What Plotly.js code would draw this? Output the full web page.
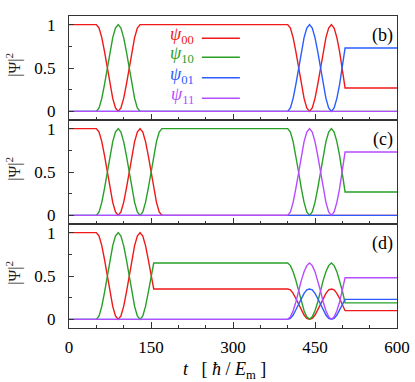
<!DOCTYPE html>
<html lang="en">
<head>
<meta charset="UTF-8">
<title>Populations</title>
<script src="https://cdn.plot.ly/plotly-3.0.1.min.js"></script>
<style>
  body { margin: 0; background: #fff; }
  #plot { width: 415px; height: 382px; }
</style>
</head>
<body>
<div id="plot"></div>
<script>
// time grid (hbar / E_m)
const t = [0, 50,55,60,65,70,75,80,85,90,95,100,105,110,115,120,125,130,135,140,145,150,155,160,165,170,
  400,405,410,415,420,425,430,435,440,445,450,455,460,465,470,475,480,485,490,495,500,505, 600];

// panel (b)
const b00 = [1, 1,.96,.85,.69,.5,.31,.15,.04,0,.04,.15,.31,.5,.69,.85,.96,1, 1,1,1,1,1,1,1,1,
  1,.96,.85,.69,.5,.31,.15,.04,0,.04,.15,.31,.5,.69,.85,.96,1,.96,.85,.69,.5,.27, .27];
const b10 = [0, 0,.04,.15,.31,.5,.69,.85,.96,1,.96,.85,.69,.5,.31,.15,.04,0, 0,0,0,0,0,0,0,0,
  0,0,0,0,0,0,0,0,0,0,0,0,0,0,0,0,0,0,0,0,0,0, 0];
const b01 = [0, 0,0,0,0,0,0,0,0,0,0,0,0,0,0,0,0,0, 0,0,0,0,0,0,0,0,
  0,.04,.15,.31,.5,.69,.85,.96,1,.96,.85,.69,.5,.31,.15,.04,0,.04,.15,.31,.5,.73, .73];
const b11 = [0, 0,0,0,0,0,0,0,0,0,0,0,0,0,0,0,0,0, 0,0,0,0,0,0,0,0,
  0,0,0,0,0,0,0,0,0,0,0,0,0,0,0,0,0,0,0,0,0,0, 0];

// panel (c)
const c00 = [1, 1,.96,.85,.69,.5,.31,.15,.04,0,.04,.15,.31,.5,.69,.85,.96,1, .96,.85,.69,.5,.31,.15,.04,0,
  0,0,0,0,0,0,0,0,0,0,0,0,0,0,0,0,0,0,0,0,0,0, 0];
const c10 = [0, 0,.04,.15,.31,.5,.69,.85,.96,1,.96,.85,.69,.5,.31,.15,.04,0, .04,.15,.31,.5,.69,.85,.96,1,
  1,.96,.85,.69,.5,.31,.15,.04,0,.04,.15,.31,.5,.69,.85,.96,1,.96,.85,.69,.5,.27, .27];
const c01 = [0, 0,0,0,0,0,0,0,0,0,0,0,0,0,0,0,0,0, 0,0,0,0,0,0,0,0,
  0,0,0,0,0,0,0,0,0,0,0,0,0,0,0,0,0,0,0,0,0,0, 0];
const c11 = [0, 0,0,0,0,0,0,0,0,0,0,0,0,0,0,0,0,0, 0,0,0,0,0,0,0,0,
  0,.04,.15,.31,.5,.69,.85,.96,1,.96,.85,.69,.5,.31,.15,.04,0,.04,.15,.31,.5,.73, .73];

// panel (d)
const d00 = [1, 1,.96,.85,.69,.5,.31,.15,.04,0,.04,.15,.31,.5,.69,.85,.96,1, .96,.85,.69,.5,.35,.35,.35,.35,
  .35,.34,.30,.24,.17,.11,.05,.01,0,.01,.05,.11,.17,.24,.30,.34,.35,.34,.30,.24,.17,.10, .10];
const d10 = [0, 0,.04,.15,.31,.5,.69,.85,.96,1,.96,.85,.69,.5,.31,.15,.04,0, .04,.15,.31,.5,.65,.65,.65,.65,
  .65,.62,.55,.45,.33,.20,.10,.03,0,.03,.10,.20,.33,.45,.55,.62,.65,.62,.55,.45,.33,.19, .19];
const d01 = [0, 0,0,0,0,0,0,0,0,0,0,0,0,0,0,0,0,0, 0,0,0,0,0,0,0,0,
  0,.01,.05,.11,.17,.24,.30,.34,.35,.34,.30,.24,.17,.11,.05,.01,0,.01,.05,.11,.17,.23, .23];
const d11 = [0, 0,0,0,0,0,0,0,0,0,0,0,0,0,0,0,0,0, 0,0,0,0,0,0,0,0,
  0,.03,.10,.20,.33,.45,.55,.62,.65,.62,.55,.45,.33,.20,.10,.03,0,.03,.10,.20,.33,.48, .48];

const labels = ['00', '10', '01', '11'];
const colors = ['#f01818', '#28a028', '#2a5cff', '#b64cff'];
const panelNames = ['(b)', '(c)', '(d)'];
const xTicks = [0, 150, 300, 450, 600];

const panels = [
  {series: [b00, b10, b01, b11], ax: '3'},
  {series: [c00, c10, c01, c11], ax: '2'},
  {series: [d00, d10, d01, d11], ax: ''}
];

const serif = 'Liberation Serif, Times New Roman, serif';

let data = [];
panels.forEach(p => {
  p.series.forEach((ys, i) => {
    data.push({
      x: t, y: ys, type: 'scatter', mode: 'lines',
      xaxis: 'x' + p.ax, yaxis: 'y' + p.ax,
      line: {color: colors[i], width: 1.4},
      showlegend: false, hoverinfo: 'skip'
    });
  });
});

function xAxis(show) {
  return {
    domain: [0, 1], range: [0, 600],
    tickvals: xTicks, ticks: 'inside', ticklen: 6, tickcolor: '#333',
    minor: {dtick: 50, tick0: 0, ticks: 'inside', ticklen: 3, tickcolor: '#333'},
    showticklabels: show, ticklabelstandoff: 4,
    showgrid: false, zeroline: false, showline: true, mirror: true,
    linecolor: '#333', linewidth: 1,
    tickfont: {family: serif, size: 17, color: '#000'}
  };
}
function yAxis(domain) {
  return {
    domain: domain, range: [-0.1, 1.1],
    tickvals: [0, 0.5, 1], ticktext: ['0', '0.5', '1'],
    ticks: 'inside', ticklen: 5, tickcolor: '#333',
    minor: {tickvals: [0.25, 0.75], ticks: 'inside', ticklen: 3, tickcolor: '#333'},
    ticklabelstandoff: 9,
    showgrid: false, zeroline: false, showline: true, mirror: true,
    linecolor: '#333', linewidth: 1,
    tickfont: {family: serif, size: 17, color: '#000'}
  };
}

const doms = [[2/3, 1], [1/3, 2/3], [0, 1/3]];

let layout = {
  width: 415, height: 382,
  margin: {l: 69, r: 18, t: 16, b: 54},
  paper_bgcolor: '#fff', plot_bgcolor: '#fff',
  showlegend: false,
  xaxis: Object.assign(xAxis(true), {anchor: 'y'}),
  yaxis: Object.assign(yAxis(doms[2]), {anchor: 'x'}),
  xaxis2: Object.assign(xAxis(false), {anchor: 'y2', matches: 'x'}),
  yaxis2: Object.assign(yAxis(doms[1]), {anchor: 'x2'}),
  xaxis3: Object.assign(xAxis(false), {anchor: 'y3', matches: 'x'}),
  yaxis3: Object.assign(yAxis(doms[0]), {anchor: 'x3'}),
  annotations: [],
  shapes: []
};

// y titles and panel tags
doms.forEach((d, k) => {
  layout.annotations.push({
    xref: 'paper', yref: 'paper', x: -0.168, y: (d[0] + d[1]) / 2 + 0.01,
    text: '|Ψ|<sup>2</sup>', textangle: -90, showarrow: false,
    xanchor: 'center', yanchor: 'middle',
    font: {family: serif, size: 16, color: '#222'}
  });
  layout.annotations.push({
    xref: 'paper', yref: 'paper', x: 0.994, y: d[1] - 0.022,
    text: panelNames[k], showarrow: false, xanchor: 'right', yanchor: 'top',
    font: {family: serif, size: 18, color: '#000'}
  });
});

// x title
layout.annotations.push({
  xref: 'paper', yref: 'paper', x: 0.473, y: -0.135,
  text: '<i>t</i>\u00a0\u00a0\u00a0[\u00a0<i>ħ</i>\u00a0/\u00a0<i>E</i><sub>m</sub>\u00a0]',
  showarrow: false, xanchor: 'center', yanchor: 'middle',
  font: {family: serif, size: 18, color: '#000'}
});

// legend drawn with symbol on the right, as in the original
const legY = [0.9285, 0.8676, 0.8022, 0.7362];
labels.forEach((lab, i) => {
  layout.annotations.push({
    xref: 'paper', yref: 'paper', x: 0.387, y: legY[i] + 0.008,
    text: '<i>ψ</i><sub>' + lab + '</sub>', showarrow: false,
    xanchor: 'right', yanchor: 'middle',
    font: {family: serif, size: 18, color: colors[i]}
  });
  layout.shapes.push({
    type: 'line', xref: 'paper', yref: 'paper',
    x0: 0.405, x1: 0.521, y0: legY[i], y1: legY[i],
    line: {color: colors[i], width: 1.4}
  });
});

Plotly.newPlot('plot', data, layout, {staticPlot: true});
</script>
</body>
</html>
